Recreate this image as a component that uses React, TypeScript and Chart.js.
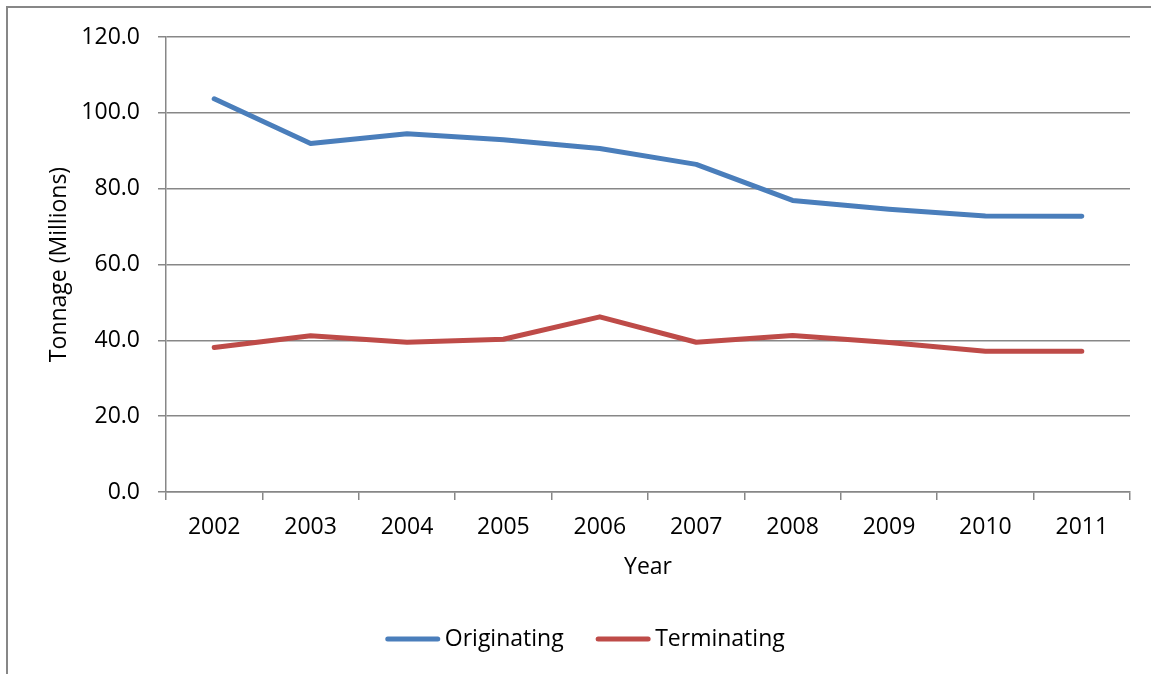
import React, { useEffect, useRef } from "react";
import { Chart, registerables } from "chart.js";

Chart.register(...registerables);

const years = ["2002", "2003", "2004", "2005", "2006", "2007", "2008", "2009", "2010", "2011"];
const originating = [103.7, 91.9, 94.5, 92.9, 90.6, 86.4, 76.9, 74.6, 72.8, 72.7];
const terminating = [38.1, 41.2, 39.5, 40.3, 46.2, 39.5, 41.3, 39.4, 37.1, 37.1];
const yTicks = [0, 20, 40, 60, 80, 100, 120];

const FONT = "'Open Sans', 'DejaVu Sans', sans-serif";
const FONT_SIZE = 23;
const GRID = "#878787";
const BLUE = "#4A7EBB";
const RED = "#BE4B48";

// Legend row drawn under the axis: a short rounded line swatch, then the series name.
const lineLegend = {
  id: "lineLegend",
  afterDraw(chart: any) {
    const ctx = chart.ctx as CanvasRenderingContext2D;
    const swatch = 50;
    const cap = 2.5;
    const textGap = 7;
    const itemGap = 32;
    const centerX = 585;
    const y = 639;
    ctx.save();
    ctx.font = `${FONT_SIZE}px ${FONT}`;
    const items = chart.data.datasets.map((ds: any) => ({
      label: ds.label as string,
      color: ds.borderColor as string,
      width: ctx.measureText(ds.label).width,
    }));
    const total =
      items.reduce((s: number, it: any) => s + cap * 2 + swatch + textGap - cap + it.width, 0) +
      itemGap * (items.length - 1);
    let x = centerX - total / 2;
    items.forEach((it: any) => {
      const x0 = x + cap;
      ctx.beginPath();
      ctx.strokeStyle = it.color;
      ctx.lineWidth = 5;
      ctx.lineCap = "round";
      ctx.moveTo(x0, y);
      ctx.lineTo(x0 + swatch, y);
      ctx.stroke();
      const tx = x0 + swatch + textGap;
      ctx.fillStyle = "#000";
      ctx.textAlign = "left";
      ctx.textBaseline = "middle";
      ctx.fillText(it.label, tx, y);
      x = tx + it.width + itemGap;
    });
    ctx.restore();
  },
};

export default function App() {
  const canvasRef = useRef<HTMLCanvasElement | null>(null);

  useEffect(() => {
    const canvas = canvasRef.current;
    if (!canvas) return;
    const font = { family: FONT, size: FONT_SIZE };
    const chart = new Chart(canvas, {
      type: "line",
      data: {
        labels: years,
        datasets: [
          {
            label: "Originating",
            data: originating,
            borderColor: BLUE,
            backgroundColor: BLUE,
            borderWidth: 5,
            borderCapStyle: "round",
            borderJoinStyle: "round",
            pointRadius: 0,
            tension: 0,
          },
          {
            label: "Terminating",
            data: terminating,
            borderColor: RED,
            backgroundColor: RED,
            borderWidth: 5,
            borderCapStyle: "round",
            borderJoinStyle: "round",
            pointRadius: 0,
            tension: 0,
          },
        ],
      },
      options: {
        responsive: false,
        animation: false,
        devicePixelRatio: 1,
        layout: { padding: { top: 37, right: 21, left: 0, bottom: 82 } },
        plugins: {
          tooltip: { enabled: false },
          legend: { display: false },
        },
        scales: {
          x: {
            type: "category",
            offset: true,
            afterFit: (scale: any) => {
              scale.height = 100;
            },
            grid: {
              offset: true,
              drawOnChartArea: false,
              drawTicks: true,
              tickLength: 8,
              color: GRID,
              lineWidth: 1.5,
            },
            border: { display: true, color: GRID, width: 1.5 },
            ticks: { color: "#000", font, padding: 14, maxRotation: 0 },
            title: {
              display: true,
              text: "Year",
              color: "#000",
              font,
              padding: { top: 0, bottom: 11 },
            },
          },
          y: {
            min: 0,
            max: 120,
            afterFit: (scale: any) => {
              scale.width = 166;
            },
            afterBuildTicks: (scale: any) => {
              scale.ticks = yTicks.map((v) => ({ value: v }));
            },
            grid: {
              drawTicks: true,
              tickLength: 8,
              color: GRID,
              lineWidth: 1.5,
            },
            border: { display: true, color: GRID, width: 1.5 },
            ticks: {
              color: "#000",
              font,
              padding: 18,
              callback: (v: any) => Number(v).toFixed(1),
            },
            title: {
              display: true,
              text: "Tonnage (Millions)",
              color: "#000",
              font,
              padding: { top: 46, bottom: 0 },
            },
          },
        },
      },
      plugins: [lineLegend],
    });
    return () => chart.destroy();
  }, []);

  return (
    <div
      style={{
        position: "fixed",
        left: 0,
        top: 0,
        width: 1151,
        height: 674,
        background: "#fff",
        overflow: "hidden",
      }}
    >
      <div
        style={{
          position: "absolute",
          left: 6,
          top: 6,
          width: 1300,
          height: 800,
          borderLeft: `2px solid ${GRID}`,
          borderTop: `2px solid ${GRID}`,
        }}
      />
      <canvas
        ref={canvasRef}
        width={1151}
        height={674}
        style={{ position: "absolute", left: 0, top: 0, width: 1151, height: 674 }}
      />
    </div>
  );
}
